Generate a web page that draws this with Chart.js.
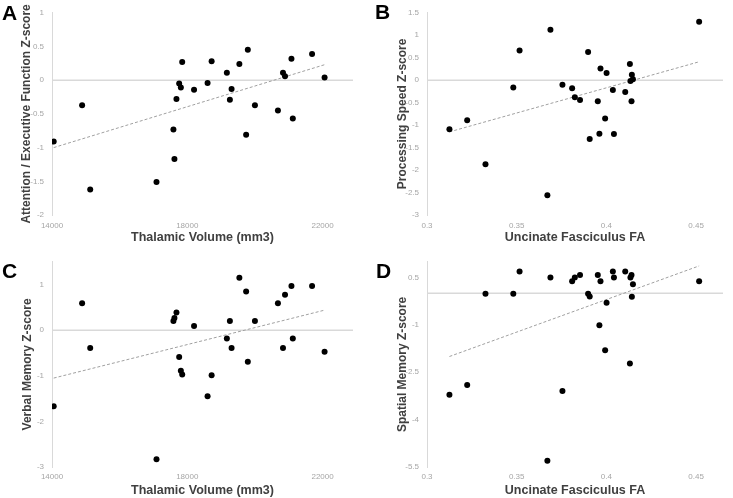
<!DOCTYPE html>
<html>
<head>
<meta charset="utf-8">
<script src="https://cdn.jsdelivr.net/npm/chart.js@4"></script>
<style>
  html, body { margin: 0; padding: 0; background: #fff; overflow: hidden; }
  body { width: 733px; height: 498px; position: relative; font-family: 'Liberation Sans', Arial, sans-serif; }
  .panel { position: absolute; }
  .letter { position: absolute; font-size: 21px; font-weight: bold; line-height: 21px; color: #000; }
</style>
</head>
<body>
<div class="panel" style="left:0;top:0"><canvas id="chartA" width="366" height="249"></canvas></div>
<div class="panel" style="left:366px;top:0"><canvas id="chartB" width="367" height="249"></canvas></div>
<div class="panel" style="left:0;top:249px"><canvas id="chartC" width="366" height="249"></canvas></div>
<div class="panel" style="left:366px;top:249px"><canvas id="chartD" width="367" height="249"></canvas></div>
<div class="letter" style="left:2px;top:2px">A</div>
<div class="letter" style="left:375px;top:1px">B</div>
<div class="letter" style="left:2px;top:260px">C</div>
<div class="letter" style="left:376px;top:260px">D</div>
<script>
// x values (same subjects in A/C and in B/D)
const thalamicVolume = [14050, 14890, 15130, 17090, 17590, 17620, 17680, 17760, 17810, 17850,
    18200, 18600, 18720, 19170, 19260, 19310, 19540, 19740, 19790, 20000,
    20680, 20830, 20890, 21080, 21120, 21690, 22060];
const uncinateFA = [0.3125, 0.3224, 0.3326, 0.3481, 0.3516, 0.3671, 0.3688, 0.3755, 0.3809, 0.3824,
    0.3853, 0.3898, 0.3907, 0.3952, 0.3961, 0.3967, 0.3993, 0.4001, 0.4036, 0.4042,
    0.4105, 0.4131, 0.4134, 0.4140, 0.4142, 0.4148, 0.4517];

// z-scores
const attentionZ = [-0.91, -0.37, -1.62, -1.51, -0.73, -1.17, -0.28, -0.05, -0.11, 0.27,
    -0.14, -0.04, 0.28, 0.11, -0.29, -0.13, 0.24, -0.81, 0.45, -0.37,
    -0.45, 0.11, 0.06, 0.32, -0.57, 0.39, 0.04];
const processingZ = [-1.09, -0.89, -1.87, -0.16, 0.66, -2.56, 1.12, -0.10, -0.18, -0.38,
    -0.44, 0.63, -1.31, -0.47, -1.19, 0.26, -0.85, 0.16, -0.22, -1.20,
    -0.26, 0.36, -0.02, -0.47, 0.12, 0.02, 1.30];
const verbalZ = [-1.67, 0.59, -0.39, -2.83, 0.20, 0.27, 0.39, -0.59, -0.89, -0.97,
    0.09, -1.45, -0.99, -0.18, 0.20, -0.39, 1.15, 0.85, -0.69, 0.20,
    0.59, -0.39, 0.78, 0.97, -0.18, 0.97, -0.47];
const spatialZ = [-3.21, -2.90, -0.01, -0.01, 0.69, -5.30, 0.50, -3.09, 0.38, 0.50,
    0.58, -0.01, -0.10, 0.58, -1.01, 0.38, -1.80, -0.30, 0.69, 0.50,
    0.69, -2.22, 0.50, 0.58, -0.11, 0.29, 0.38];

// trend lines (end points)
const trendThalamicX = [14050, 22060];
const trendAttention = [-1.0, 0.23];
const trendVerbal = [-1.05, 0.44];
const trendFAX = [0.3125, 0.4517];
const trendProcessing = [-1.15, 0.41];
const trendSpatial = [-2.0, 0.87];

// tick labels
const thalamicTicks = [14000, 18000, 22000];
const faTicks = [0.3, 0.35, 0.4, 0.45];
const attentionTicks = [-2, -1.5, -1, -0.5, 0, 0.5, 1];
const processingTicks = [-3, -2.5, -2, -1.5, -1, -0.5, 0, 0.5, 1, 1.5];
const verbalTicks = [-3, -2, -1, 0, 1];
const spatialTicks = [-5.5, -4, -2.5, -1, 0.5];

const FONT = "'Liberation Sans', Arial, sans-serif";
const TICK_COLOR = '#a6a6a6';
const TITLE_COLOR = '#404040';

// horizontal line at y = 0 (the category axis crossing)
const zeroLine = {
    id: 'zeroLine',
    beforeDatasetsDraw(chart) {
        const {ctx, chartArea, scales} = chart;
        const y = scales.y.getPixelForValue(0);
        ctx.save();
        ctx.strokeStyle = '#d9d9d9';
        ctx.lineWidth = 1.5;
        ctx.beginPath();
        ctx.moveTo(chartArea.left, y);
        ctx.lineTo(chartArea.right, y);
        ctx.stroke();
        ctx.restore();
    }
};

function pts(xs, ys) {
    return xs.map((x, i) => ({x: x, y: ys[i]}));
}

function makeChart(id, o) {
    new Chart(document.getElementById(id), {
        type: 'scatter',
        data: {
            datasets: [{
                data: pts(o.xs, o.ys),
                backgroundColor: '#000',
                borderColor: '#000',
                pointRadius: 3,
                pointBorderWidth: 0
            }, {
                type: 'line',
                data: pts(o.trendX, o.trendY),
                borderColor: '#a0a0a0',
                borderWidth: 1,
                borderDash: [3, 2],
                pointRadius: 0,
                fill: false
            }]
        },
        options: {
            responsive: false,
            animation: false,
            layout: {padding: o.pad},
            plugins: {legend: {display: false}, tooltip: {enabled: false}},
            scales: {
                x: {
                    type: 'linear',
                    min: o.xMin,
                    max: o.xMax,
                    afterBuildTicks: s => { s.ticks = o.xTicks.map(v => ({value: v})); },
                    afterFit: s => { s.height = o.xHeight; },
                    grid: {display: false, drawTicks: false},
                    border: {display: false},
                    ticks: {
                        callback: v => String(v),
                        color: TICK_COLOR,
                        font: {family: FONT, size: 8},
                        padding: o.xTickPad,
                        maxRotation: 0,
                        autoSkip: false
                    },
                    title: {
                        display: true,
                        text: o.xTitle,
                        color: TITLE_COLOR,
                        font: {family: FONT, size: 12.5, weight: 'bold'},
                        padding: {top: 0, bottom: o.xTitlePad}
                    }
                },
                y: {
                    type: 'linear',
                    min: o.yMin,
                    max: o.yMax,
                    afterBuildTicks: s => { s.ticks = o.yTicks.map(v => ({value: v})); },
                    afterFit: s => { s.width = o.yWidth; },
                    grid: {display: true, drawOnChartArea: false, drawTicks: false},
                    border: {display: true, color: '#d9d9d9', width: 1},
                    ticks: {
                        callback: v => String(v),
                        color: TICK_COLOR,
                        font: {family: FONT, size: 8},
                        padding: 8,
                        autoSkip: false
                    },
                    title: {
                        display: true,
                        text: o.yTitle,
                        color: TITLE_COLOR,
                        font: {family: FONT, size: 12, weight: 'bold'},
                        padding: {top: 5, bottom: 0}
                    }
                }
            }
        },
        plugins: [zeroLine]
    });
}

makeChart('chartA', {
    xs: thalamicVolume, ys: attentionZ, trendX: trendThalamicX, trendY: trendAttention,
    xMin: 14000, xMax: 22900, xTicks: thalamicTicks,
    yMin: -2, yMax: 1, yTicks: attentionTicks,
    xTitle: 'Thalamic Volume (mm3)', yTitle: 'Attention / Executive Function Z-score',
    pad: {left: 14, top: 8, right: 13, bottom: 0}, yWidth: 38, xHeight: 34, xTickPad: 6, xTitlePad: 4
});

makeChart('chartB', {
    xs: uncinateFA, ys: processingZ, trendX: trendFAX, trendY: trendProcessing,
    xMin: 0.3, xMax: 0.465, xTicks: faTicks,
    yMin: -3, yMax: 1.5, yTicks: processingTicks,
    xTitle: 'Uncinate Fasciculus FA', yTitle: 'Processing Speed Z-score',
    pad: {left: 24, top: 8, right: 10, bottom: 0}, yWidth: 37, xHeight: 34, xTickPad: 6, xTitlePad: 4
});

makeChart('chartC', {
    xs: thalamicVolume, ys: verbalZ, trendX: trendThalamicX, trendY: trendVerbal,
    xMin: 14000, xMax: 22900, xTicks: thalamicTicks,
    yMin: -3, yMax: 1.5, yTicks: verbalTicks,
    xTitle: 'Thalamic Volume (mm3)', yTitle: 'Verbal Memory Z-score',
    pad: {left: 15, top: 12, right: 13, bottom: 0}, yWidth: 37, xHeight: 31, xTickPad: 5, xTitlePad: 0
});

makeChart('chartD', {
    xs: uncinateFA, ys: spatialZ, trendX: trendFAX, trendY: trendSpatial,
    xMin: 0.3, xMax: 0.465, xTicks: faTicks,
    yMin: -5.5, yMax: 1, yTicks: spatialTicks,
    xTitle: 'Uncinate Fasciculus FA', yTitle: 'Spatial Memory Z-score',
    pad: {left: 24, top: 12, right: 10, bottom: 0}, yWidth: 37, xHeight: 31, xTickPad: 5, xTitlePad: 0
});
</script>
</body>
</html>
